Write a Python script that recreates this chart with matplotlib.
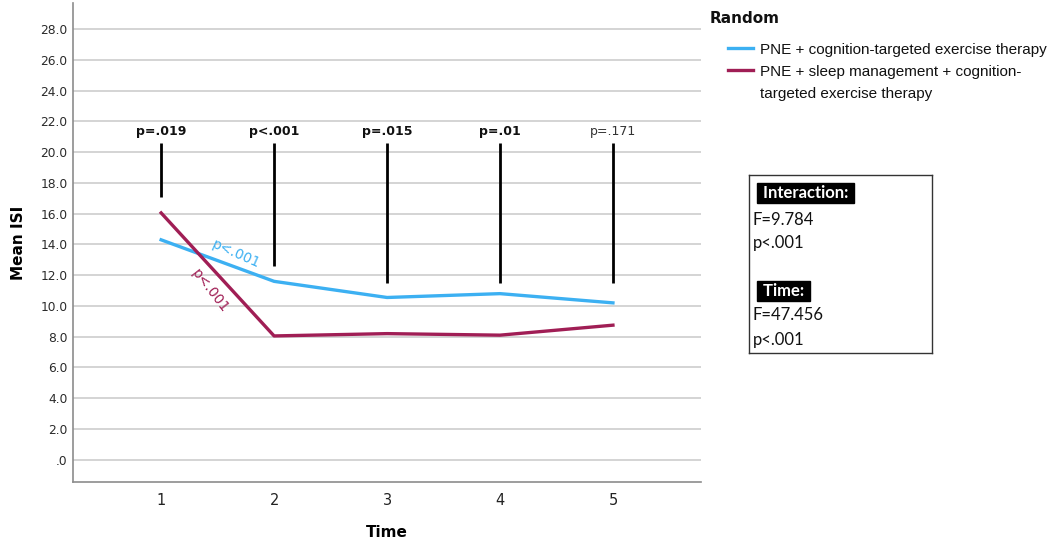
import matplotlib.pyplot as plt

# values
times = [1, 2, 3, 4, 5]
pne_exercise = [14.3, 11.6, 10.55, 10.8, 10.2]
pne_sleep = [16.05, 8.05, 8.2, 8.1, 8.75]
group_labels = ["PNE + cognition-targeted exercise therapy",
                "PNE + sleep management + cognition-"]
label_wrap = "targeted exercise therapy"
p_between = ["p=.019", "p<.001", "p=.015", "p=.01", "p=.171"]
bar_top = [20.6, 20.6, 20.6, 20.6, 20.6]
bar_bottom = [17.1, 12.6, 11.5, 11.5, 11.5]
yticks = [0, 2, 4, 6, 8, 10, 12, 14, 16, 18, 20, 22, 24, 26, 28]
stats_lines = [("Interaction:", True), ("F=9.784", False), ("p<.001", False),
               ("Time:", True), ("F=47.456", False), ("p<.001", False)]
stats_y = [0.90, 0.745, 0.62, 0.35, 0.215, 0.075]

blue = "#3cb0f2"
red = "#a01e55"
narrow = ["Liberation Sans Narrow", "Liberation Sans"]

fig = plt.figure(figsize=(10.63, 5.47), dpi=100)
ax = fig.add_axes([0.0687, 0.1188, 0.5908, 0.8757])

ax.set_xlim(0.22, 5.78)
ax.set_ylim(-1.45, 29.7)
ax.set_yticks(yticks)
ax.set_yticklabels([f"{v:.1f}" if v else ".0" for v in yticks], fontsize=8.8, color="#2a2a2a")
ax.set_xticks(times)
ax.set_xticklabels([str(t) for t in times], fontsize=10.5, color="#222222")
ax.tick_params(axis="y", length=0, pad=4)
ax.tick_params(axis="x", length=0, pad=8)
ax.grid(True, axis="y", color="#d4d4d4", linewidth=1.4)
ax.set_axisbelow(True)
for side in ["top", "right"]:
    ax.spines[side].set_visible(False)
for side in ["left", "bottom"]:
    ax.spines[side].set_color("#8c8c8c")
    ax.spines[side].set_linewidth(1.2)

l1, = ax.plot(times, pne_exercise, color=blue, linewidth=2.4, solid_joinstyle="round")
l2, = ax.plot(times, pne_sleep, color=red, linewidth=2.4, solid_joinstyle="round")

# between-group p-values with bars
for t, lab, top, bot in zip(times, p_between, bar_top, bar_bottom):
    ax.vlines(t, bot, top, color="black", linewidth=2)
    bold = lab != "p=.171"
    ax.text(t, top + 0.35, lab, ha="center", va="bottom", fontsize=9,
            fontweight="bold" if bold else "normal", color="#111111" if bold else "#333333")

# within-group slopes
ax.text(1.66, 13.35, "p<.001", color=blue, fontsize=10, rotation=-24, ha="center", va="center")
ax.text(1.43, 11.0, "p<.001", color=red, fontsize=10, rotation=-52, ha="center", va="center")

ax.set_ylabel("Mean ISI", fontsize=11, fontweight="bold", labelpad=10)
ax.set_xlabel("Time", fontsize=11, fontweight="bold", labelpad=12)

fig.text(0.668, 0.966, "Random", fontsize=11, fontweight="bold", va="center", color="#111111")
leg = ax.legend([l1, l2], group_labels, loc="upper left",
                bbox_to_anchor=(0.685, 0.922), bbox_transform=fig.transFigure,
                frameon=False, handlelength=1.6, handletextpad=0.5,
                labelspacing=0.52, borderaxespad=0, borderpad=0,
                prop={"family": narrow, "size": 11})
for t in leg.get_texts():
    t.set_color("#111111")
fig.canvas.draw()
bb = leg.get_texts()[1].get_window_extent().transformed(fig.transFigure.inverted())
fig.text(bb.x0, bb.y0 - 0.0405, label_wrap, family=narrow, fontsize=11,
         color="#111111", va="bottom", ha="left")

# statistics box
box = fig.add_axes([0.7046, 0.3547, 0.1722, 0.3254])
box.set_xticks([])
box.set_yticks([])
for s in box.spines.values():
    s.set_color("#333333")
    s.set_linewidth(1)
for (txt, head), y in zip(stats_lines, stats_y):
    if head:
        box.text(0.055, y, " " + txt + " ", transform=box.transAxes, fontsize=12,
                 fontweight="bold", color="white", va="center", family="Lato",
                 bbox=dict(facecolor="black", edgecolor="black", pad=1.5))
    else:
        box.text(0.02, y, txt, transform=box.transAxes, fontsize=12,
                 color="#111111", va="center", family="Lato")

fig.savefig("out.png", dpi=100)
